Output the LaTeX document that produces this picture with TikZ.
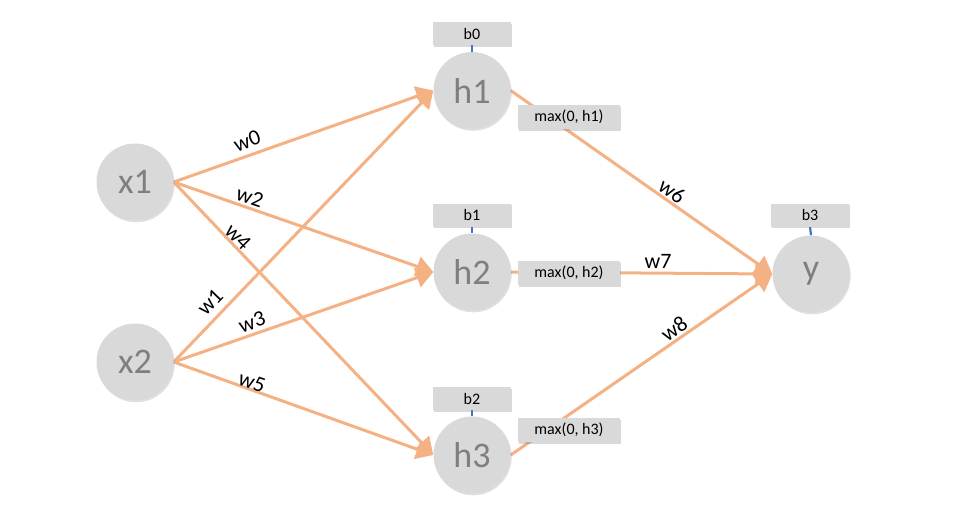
\documentclass[tikz,border=0pt]{standalone}
\usepackage{fontspec}
\setmainfont{Carlito}
\usetikzlibrary{arrows.meta,shadows,backgrounds}
\definecolor{edgeor}{HTML}{F4B183}
\definecolor{nodegray}{HTML}{D9D9D9}
\definecolor{txtgray}{HTML}{7F7F7F}
\definecolor{biasblue}{HTML}{4472C4}
\tikzset{
  neuron/.style={circle, fill=nodegray, minimum size=77pt, inner sep=0pt,
    text=txtgray, font=\fontsize{36}{38}\selectfont,
    drop shadow={opacity=0.25, shadow xshift=1.2pt, shadow yshift=-1.8pt}},
  biasbox/.style={rectangle, fill=nodegray, minimum width=78pt, minimum height=23pt,
    inner sep=0pt, font=\fontsize{16}{18}\selectfont,
    drop shadow={opacity=0.3, shadow xshift=1.2pt, shadow yshift=-1.5pt}},
  relubox/.style={biasbox, minimum width=102pt, minimum height=24pt},
  conn/.style={draw=edgeor, line width=3pt, -{Triangle[length=17pt,width=20pt]}},
  wlabel/.style={font=\fontsize{22}{24}\selectfont, inner sep=0pt},
  biasline/.style={draw=biasblue, line width=2.2pt}
}
\begin{document}
\begin{tikzpicture}[x=1pt,y=-1pt]
\useasboundingbox (0,0) rectangle (977,512);
% neurons
\node[neuron] (x1) at (135,182) {x1};
\node[neuron] (x2) at (135,362) {x2};
\node[neuron] (h1) at (472,90.5) {h1};
\node[neuron] (h2) at (472,272) {h2};
\node[neuron] (h3) at (472,455) {h3};
\node[neuron] (y) at (811,274) {y};
% bias boxes
\node[biasbox] (b0) at (472,33.5) {b0};
\node[biasbox] (b1) at (472,215) {b1};
\node[biasbox] (b2) at (472,398.5) {b2};
\node[biasbox] (b3) at (810,215) {b3};
% relu boxes
\node[relubox] (r1) at (569,117) {max(0, h1)};
\node[relubox] (r2) at (569,273) {max(0, h2)};
\node[relubox] (r3) at (569,430) {max(0, h3)};
\begin{scope}[on background layer]
\draw[conn] (x1.east) -- (h1.west);
\draw[conn] (x1.east) -- (h2.west);
\draw[conn] (x1.east) -- (h3.west);
\draw[conn] (x2.east) -- (h1.west);
\draw[conn] (x2.east) -- (h2.west);
\draw[conn] (x2.east) -- (h3.west);
\draw[conn] (h1.east) -- (y.west);
\draw[conn] (h2.east) -- (y.west);
\draw[conn] (h3.east) -- (y.west);
\draw[biasline] (b0.south) -- (h1.north);
\draw[biasline] (b1.south) -- (h2.north);
\draw[biasline] (b2.south) -- (h3.north);
\draw[biasline] (b3.south) -- (y.north);
\end{scope}
% weight labels
\node[wlabel, rotate=20] (w0) at (247,141) {w0};
\node[wlabel, rotate=-19] (w2) at (250,197) {w2};
\node[wlabel, rotate=-45] (w4) at (238,237) {w4};
\node[wlabel, rotate=46] (w1) at (210,302) {w1};
\node[wlabel, rotate=19] (w3) at (252,322) {w3};
\node[wlabel, rotate=-19] (w5) at (252,382) {w5};
\node[wlabel, rotate=-35] (w6) at (672,191) {w6};
\node[wlabel] (w7) at (658,261) {w7};
\node[wlabel, rotate=35] (w8) at (674,329) {w8};
\end{tikzpicture}
\end{document}
